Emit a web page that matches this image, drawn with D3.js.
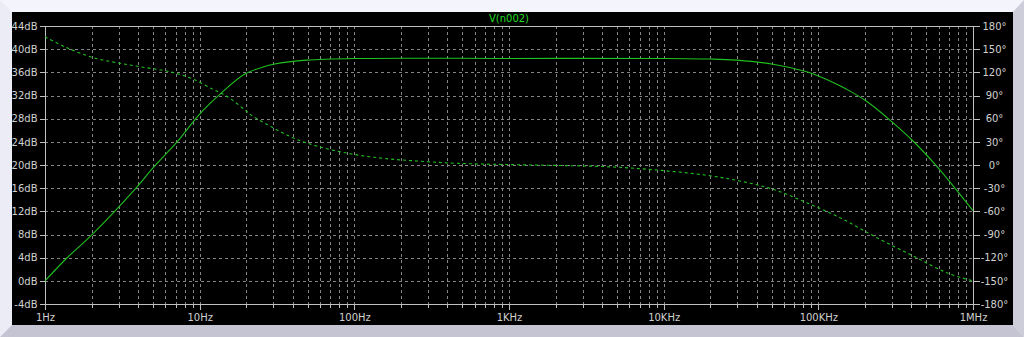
<!DOCTYPE html>
<html>
<head>
<meta charset="utf-8">
<script src="https://cdn.jsdelivr.net/npm/d3@7/dist/d3.min.js"></script>
<style>
  html, body { margin: 0; padding: 0; background: #f0f0fa; }
  svg { display: block; }
  text { font-family: "DejaVu Sans", sans-serif; font-size: 10px; }
</style>
</head>
<body>
<svg id="chart" width="1024" height="337"></svg>
<script>
// ---- data ----
const freqMag = [1, 1.38, 2.0, 3.9, 5.1, 7.1, 10, 13.9, 19.6, 27, 30, 49, 109, 1000, 10000, 20000, 29600, 51000, 84000, 93000, 138000, 152000, 205000, 298000, 411000, 582000, 764000, 1000000];
const magDb   = [0, 3.9, 7.9, 16.1, 19.8, 23.9, 28.8, 32.5, 35.7, 37.1, 37.4, 38.1, 38.4, 38.4, 38.4, 38.3, 38.1, 37.4, 36.1, 35.7, 33.7, 33.1, 31.0, 27.5, 24.1, 19.8, 16.0, 12.1];

const freqPh  = [1, 1.38, 2.05, 3.05, 4.1, 6.1, 7.4, 9.1, 12.2, 14.9, 20, 21.2, 28.4, 40, 57, 94, 154, 253, 459, 1100, 1840, 4300, 9000, 19000, 31000, 51000, 84000, 138000, 250000, 411000, 676000, 1000000];
const phaseDeg = [166, 152, 139, 131.7, 127.3, 121.7, 117.4, 111, 98, 89.4, 69.9, 65.6, 50.5, 35.3, 24.6, 14.6, 8.6, 5.2, 2.2, 0.4, -0.4, -2.2, -6.5, -13.3, -20.7, -31.5, -48.8, -68.2, -96.2, -117.9, -139.5, -150.2];

const xDecades = [1, 10, 100, 1000, 10000, 100000, 1000000];
const xTickLabels = ["1Hz", "10Hz", "100Hz", "1KHz", "10KHz", "100KHz", "1MHz"];
const magTicks = [-4, 0, 4, 8, 12, 16, 20, 24, 28, 32, 36, 40, 44];
const phaseTicks = [-180, -150, -120, -90, -60, -30, 0, 30, 60, 90, 120, 150, 180];
const title = "V(n002)";

// ---- layout ----
const W = 1024, H = 337;
const L = 45, R = 973, T = 26, B = 304;
const svg = d3.select("#chart");

// window frame
svg.append("polygon").attr("points", `0,0 ${W},0 1012,12 12,12`).attr("fill", "#f4f4fc");
svg.append("polygon").attr("points", `0,0 12,12 12,325 0,${H}`).attr("fill", "#ececf6");
svg.append("polygon").attr("points", `0,${H} 12,325 1013,325 ${W},${H}`).attr("fill", "#c4c4d2");
svg.append("polygon").attr("points", `${W},0 ${W},${H} 1013,325 1013,12`).attr("fill", "#cdcdda");
svg.append("rect").attr("x", 12).attr("y", 12).attr("width", 1001).attr("height", 313).attr("fill", "#000");

const x = d3.scaleLog().domain([1, 1e6]).range([L, R]);
const yM = d3.scaleLinear().domain([-4, 44]).range([B, T]);
const yP = d3.scaleLinear().domain([-180, 180]).range([B, T]);

// minor positions
const minor = [];
xDecades.slice(0, -1).forEach(d => { for (let k = 1; k <= 9; k++) minor.push(d * k); });
minor.push(1e6);

const snap = v => Math.round(v) + 0.5;
const grid = svg.append("g").attr("stroke", "#858585").attr("stroke-dasharray", "3,3")
  .attr("shape-rendering", "crispEdges");
minor.filter(f => f > 1 && f < 1e6).forEach(f => {
  grid.append("line").attr("x1", snap(x(f))).attr("x2", snap(x(f))).attr("y1", T).attr("y2", B);
});
magTicks.filter(t => t > -4 && t < 44).forEach(t => {
  grid.append("line").attr("x1", L).attr("x2", R).attr("y1", snap(yM(t))).attr("y2", snap(yM(t)));
});

// axes
const axisColor = "#c0c0c0", textColor = "#d0d0d0";
function styleAxis(g) {
  g.attr("shape-rendering", "crispEdges");
  g.select(".domain").remove();
  g.selectAll(".tick line").attr("stroke", axisColor);
  g.selectAll(".tick text").attr("fill", textColor).attr("font-family", "DejaVu Sans").attr("font-size", 10);
}
// frame lines
const frame = svg.append("g").attr("stroke", axisColor).attr("shape-rendering", "crispEdges");
frame.append("line").attr("x1", L).attr("x2", R + 1).attr("y1", T + 0.5).attr("y2", T + 0.5);
frame.append("line").attr("x1", L).attr("x2", R + 1).attr("y1", B + 0.5).attr("y2", B + 0.5);
frame.append("line").attr("x1", L + 0.5).attr("x2", L + 0.5).attr("y1", T).attr("y2", B + 1);
frame.append("line").attr("x1", R + 0.5).attr("x2", R + 0.5).attr("y1", T).attr("y2", B + 1);

svg.append("g").attr("transform", `translate(${L + 0.5},0)`)
  .call(d3.axisLeft(yM).tickValues(magTicks).tickSize(6).tickPadding(2).tickFormat(d => d + "dB"))
  .call(styleAxis);
svg.append("g").attr("transform", `translate(${R + 0.5},0)`)
  .call(d3.axisRight(yP).tickValues(phaseTicks).tickSize(6).tickPadding(3).tickFormat(d => d + "°"))
  .call(styleAxis)
  .call(g => g.selectAll(".tick text").attr("text-anchor", "middle").attr("x", 21));
svg.append("g").attr("transform", `translate(0,${B + 0.5})`)
  .call(d3.axisBottom(x).tickValues(minor).tickSize(3).tickFormat(""))
  .call(styleAxis);
svg.append("g").attr("transform", `translate(0,${B + 0.5})`)
  .call(d3.axisBottom(x).tickValues(xDecades).tickSize(5).tickPadding(4)
    .tickFormat((d, i) => xTickLabels[i]))
  .call(styleAxis);

// title
svg.append("text").attr("x", 509).attr("y", 22).attr("text-anchor", "middle")
  .attr("fill", "#22dd22").text(title);

// curves
const magLine = d3.line().x(d => x(d[0])).y(d => yM(d[1])).curve(d3.curveCatmullRom.alpha(0.5));
const phLine = d3.line().x(d => x(d[0])).y(d => yP(d[1])).curve(d3.curveCatmullRom.alpha(0.5));

svg.append("path").datum(d3.zip(freqMag, magDb)).attr("d", magLine)
  .attr("fill", "none").attr("stroke", "#1fc01f").attr("stroke-width", 1.1);
svg.append("path").datum(d3.zip(freqPh, phaseDeg)).attr("d", phLine)
  .attr("fill", "none").attr("stroke", "#1fc01f").attr("stroke-width", 1.1)
  .attr("stroke-dasharray", "3,3");
</script>
</body>
</html>
